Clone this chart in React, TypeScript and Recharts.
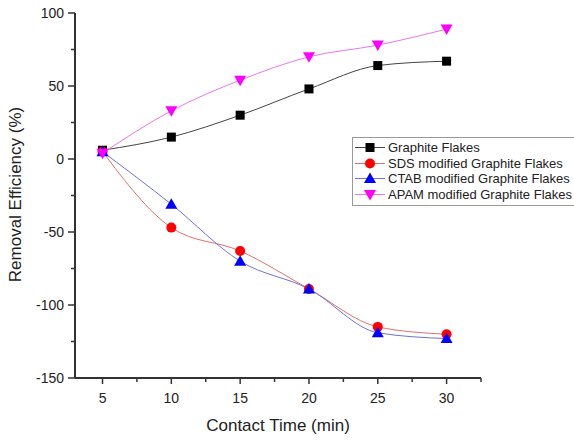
import React from "react";
import { LineChart, Line, XAxis, YAxis, Legend, Label } from "recharts";

const times = [5, 10, 15, 20, 25, 30];
const graphite = [6, 15, 30, 48, 64, 67];
const sds = [5, -47, -63, -89, -115, -120];
const ctab = [5, -31, -70, -89, -119, -123];
const apam = [4, 33, 54, 70, 78, 89];

const xTicks = [5, 7.5, 10, 12.5, 15, 17.5, 20, 22.5, 25, 27.5, 30, 32.5];
const yTicks = [-150, -125, -100, -75, -50, -25, 0, 25, 50, 75, 100];

const data = times.map((t, i) => ({
  time: t,
  graphite: graphite[i],
  sds: sds[i],
  ctab: ctab[i],
  apam: apam[i],
}));

const FONT = "'Liberation Sans', Arial, sans-serif";
const AXIS = "#333";

type Shape = "square" | "circle" | "up" | "down";

const series: { key: string; name: string; fill: string; stroke: string; shape: Shape }[] = [
  { key: "graphite", name: "Graphite Flakes", fill: "#000", stroke: "#444", shape: "square" },
  { key: "sds", name: "SDS modified Graphite Flakes", fill: "#f00", stroke: "#e07070", shape: "circle" },
  { key: "ctab", name: "CTAB modified Graphite Flakes", fill: "#00f", stroke: "#7070d8", shape: "up" },
  { key: "apam", name: "APAM modified Graphite Flakes", fill: "#f0f", stroke: "#e878e8", shape: "down" },
];

const Marker = ({ cx, cy, shape, fill }: { cx: number; cy: number; shape: Shape; fill: string }) => {
  if (shape === "square") return <rect x={cx - 4.5} y={cy - 4.5} width={9} height={9} fill={fill} />;
  if (shape === "circle") return <circle cx={cx} cy={cy} r={5} fill={fill} />;
  if (shape === "up")
    return <polygon points={`${cx},${cy - 6} ${cx - 6},${cy + 4.5} ${cx + 6},${cy + 4.5}`} fill={fill} />;
  return <polygon points={`${cx},${cy + 6} ${cx - 6},${cy - 4.5} ${cx + 6},${cy - 4.5}`} fill={fill} />;
};

const makeDot = (shape: Shape, fill: string) => (props: any) => {
  const { cx, cy, index } = props;
  if (cx == null || cy == null) return <g key={index} />;
  return (
    <g key={index}>
      <Marker cx={cx} cy={cy} shape={shape} fill={fill} />
    </g>
  );
};

// tick size 7 + margin 4 for y, 6 + 6 for x
const YTick = (props: any) => {
  const { x, y, payload } = props;
  const v = payload.value;
  const major = v % 50 === 0;
  const ax = x + 11;
  return (
    <g>
      <line x1={ax} x2={ax - (major ? 7 : 4)} y1={y} y2={y} stroke={AXIS} strokeWidth={1.5} />
      {major && (
        <text x={x} y={y} dy={5} textAnchor="end" fontSize={14} fontFamily={FONT} fill="#222">
          {v}
        </text>
      )}
    </g>
  );
};

const XTick = (props: any) => {
  const { x, y, payload } = props;
  const v = payload.value;
  const major = v % 5 === 0;
  const ay = y - 12;
  return (
    <g>
      <line x1={x} x2={x} y1={ay} y2={ay + (major ? 6 : 4)} stroke={AXIS} strokeWidth={1.5} />
      {major && (
        <text x={x} y={y} dy={13} textAnchor="middle" fontSize={14} fontFamily={FONT} fill="#222">
          {v}
        </text>
      )}
    </g>
  );
};

const LegendBox = () => (
  <div
    style={{
      border: "1px solid #999",
      background: "#fff",
      padding: "2px 0 3px 2px",
      fontFamily: FONT,
      fontSize: 13,
      color: "#222",
      width: 220,
    }}
  >
    {series.map((s) => (
      <div key={s.key} style={{ display: "flex", alignItems: "center", height: 15.5 }}>
        <svg width={33} height={15} style={{ flex: "none" }}>
          <line x1={0} x2={30} y1={7.5} y2={7.5} stroke={s.stroke} strokeWidth={1} />
          <Marker cx={15} cy={7.5} shape={s.shape} fill={s.fill} />
        </svg>
        <span style={{ whiteSpace: "nowrap" }}>{s.name}</span>
      </div>
    ))}
  </div>
);

export default function App() {
  return (
    <div style={{ position: "absolute", left: 0, top: 0, background: "#fff" }}>
      <LineChart width={574} height={441} data={data} margin={{ top: 13, right: 93, bottom: 0, left: 0 }}>
        <XAxis
          dataKey="time"
          type="number"
          domain={[3, 32.5]}
          ticks={xTicks}
          interval={0}
          tickSize={6}
          tickMargin={6}
          tickLine={false}
          tick={<XTick />}
          height={63}
          stroke={AXIS}
          strokeWidth={2}
        >
          <Label
            value="Contact Time (min)"
            position="insideBottom"
            offset={10}
            style={{ fontSize: 17, fontFamily: FONT, fill: "#222" }}
          />
        </XAxis>
        <YAxis
          type="number"
          domain={[-150, 100]}
          ticks={yTicks}
          interval={0}
          tickSize={7}
          tickMargin={4}
          tickLine={false}
          tick={<YTick />}
          width={75}
          stroke={AXIS}
          strokeWidth={2}
        >
          <Label
            value="Removal Efficiency (%)"
            angle={-90}
            position="insideLeft"
            offset={15}
            dy={-1}
            style={{ textAnchor: "middle", fontSize: 17, fontFamily: FONT, fill: "#222" }}
          />
        </YAxis>
        <Legend
          layout="vertical"
          align="center"
          verticalAlign="middle"
          wrapperStyle={{ left: 352, top: 137, width: 222 }}
          content={<LegendBox />}
        />
        {series.map((s) => (
          <Line
            key={s.key}
            dataKey={s.key}
            name={s.name}
            type="monotone"
            stroke={s.stroke}
            strokeWidth={1}
            dot={makeDot(s.shape, s.fill)}
            activeDot={false}
            isAnimationActive={false}
          />
        ))}
      </LineChart>
    </div>
  );
}
